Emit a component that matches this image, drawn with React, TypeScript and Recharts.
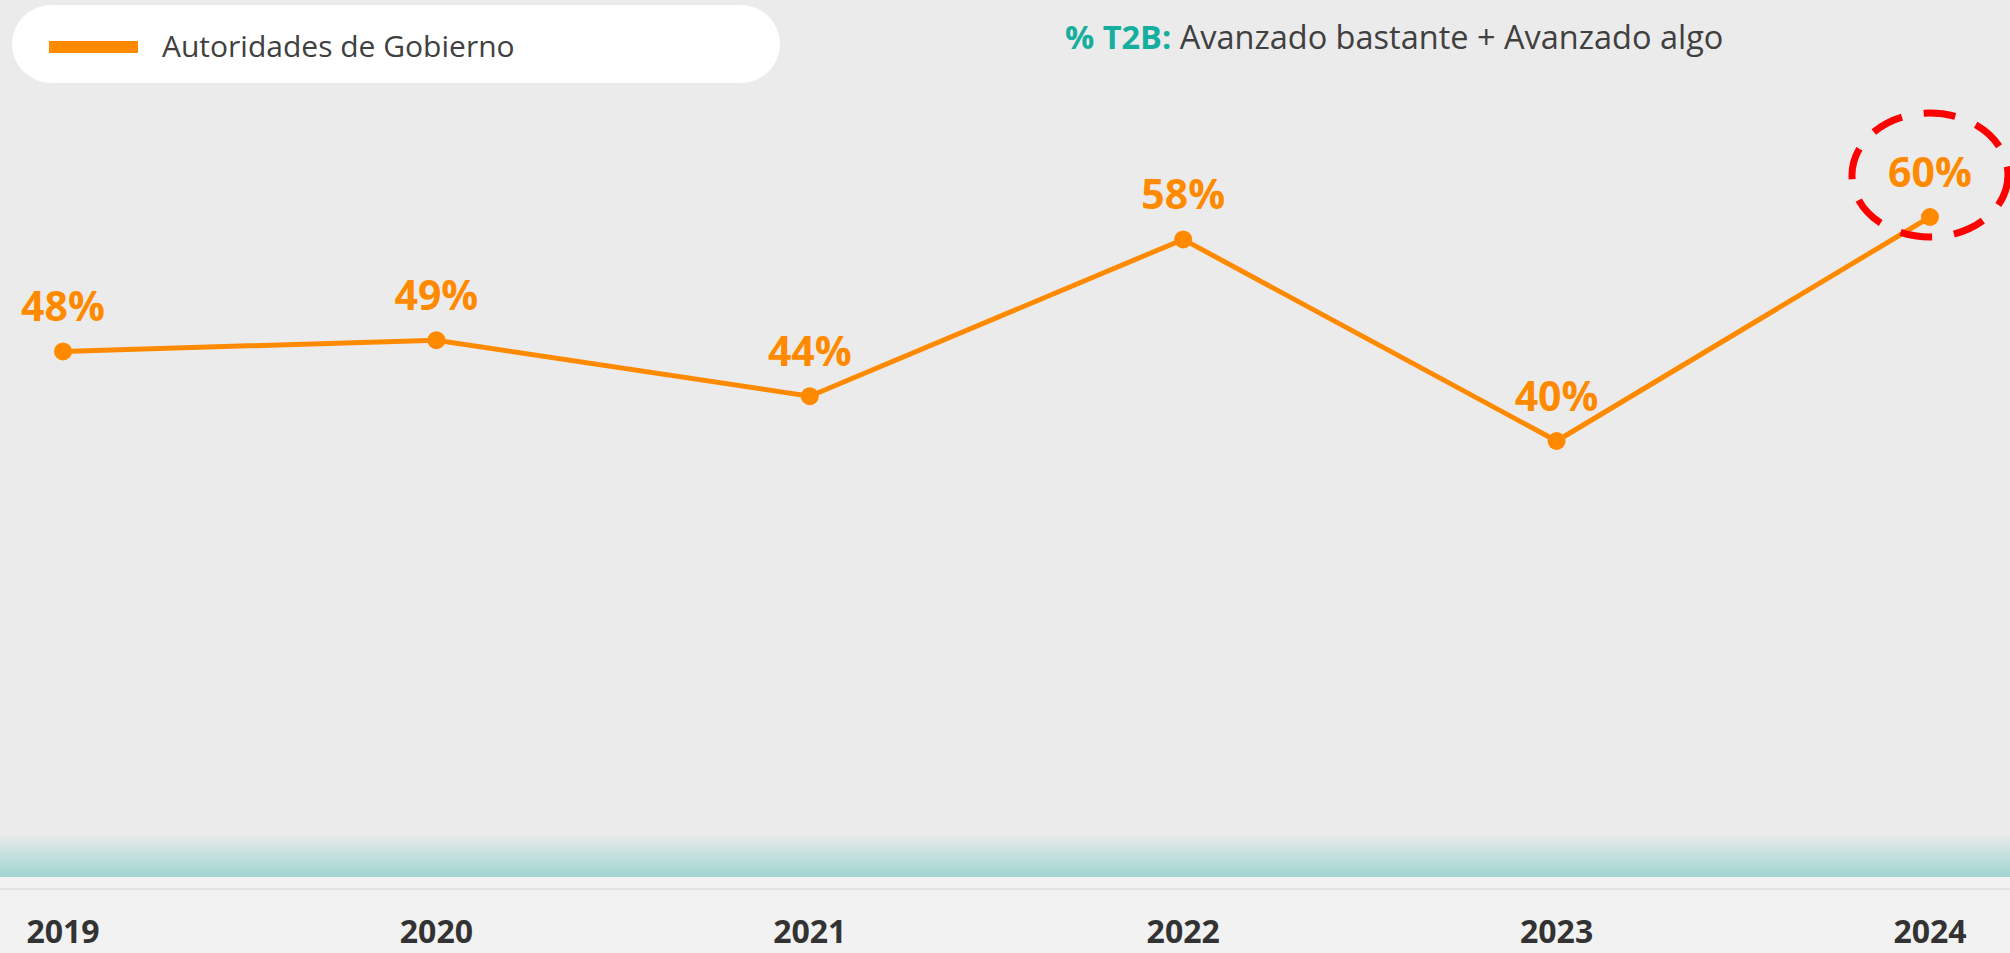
import React from 'react';
import { LineChart, Line, XAxis, YAxis, LabelList, ReferenceDot } from 'recharts';

const YEARS = ['2019', '2020', '2021', '2022', '2023', '2024'];
const GOBIERNO = [48, 49, 44, 58, 40, 60];

const SERIES_NAME = 'Autoridades de Gobierno';
const ORANGE = '#ff8a00';
const FONT = '"Open Sans", "Noto Sans", sans-serif';

const chartData = YEARS.map((year, i) => ({ year, value: GOBIERNO[i] }));

// year labels under the teal band
const YearTick = (props: any) => {
  const { x, y, payload } = props;
  return (
    <text x={x} y={y + 54} textAnchor="middle" fontFamily={FONT} fontSize={32} fontWeight={700} fill="#333333">
      {payload.value}
    </text>
  );
};

// percentage label above each point
const ValueLabel = (props: any) => {
  const { x, y, value } = props;
  return (
    <text x={x} y={y - 30} textAnchor="middle" fontFamily={FONT} fontSize={41} fontWeight={700} fill={ORANGE}>
      {`${value}%`}
    </text>
  );
};

// dashed red ring around the latest value
const Highlight = (props: any) => {
  const { cx, cy } = props;
  return (
    <ellipse cx={cx} cy={cy - 42} rx={78} ry={62} fill="none" stroke="#ff0000" strokeWidth={7} strokeDasharray="32 22" />
  );
};

const App = () => {
  const last = chartData[chartData.length - 1];
  return (
    <div style={{ position: 'fixed', left: 0, top: 0, width: 2010, height: 953, overflow: 'hidden', fontFamily: FONT }}>
      {/* backgrounds */}
      <div style={{ position: 'absolute', left: 0, top: 0, width: 2010, height: 877, background: 'linear-gradient(to bottom, #ebebeb 0px, #ebebeb 833px, #a0d5d0 877px)' }} />
      <div style={{ position: 'absolute', left: 0, top: 877, width: 2010, height: 76, background: '#f2f2f2' }} />

      {/* legend pill */}
      <div style={{ position: 'absolute', left: 12, top: 5, width: 768, height: 78, background: '#ffffff', borderRadius: 39 }}>
        <div style={{ position: 'absolute', left: 37, top: 36, width: 89, height: 12, background: ORANGE }} />
        <div style={{ position: 'absolute', left: 150, top: 21, fontSize: 30, lineHeight: '40px', color: '#404040' }}>{SERIES_NAME}</div>
      </div>

      {/* subtitle */}
      <div style={{ position: 'absolute', left: 1065, top: 15, fontSize: 32.5, lineHeight: '44px', color: '#404040', whiteSpace: 'nowrap' }}>
        <span style={{ color: '#16ae9e', fontWeight: 700 }}>% T2B:</span> Avanzado bastante + Avanzado algo
      </div>

      <div style={{ position: 'absolute', left: 0, top: 0 }}>
        <LineChart width={2010} height={953} data={chartData} margin={{ top: 105, right: 0, bottom: 0, left: 0 }}>
          <XAxis
            dataKey="year"
            height={64}
            padding={{ left: 63, right: 80 }}
            tickLine={false}
            tickSize={0}
            tickMargin={0}
            axisLine={{ stroke: '#e3e3e3', strokeWidth: 2 }}
            tick={<YearTick />}
            interval={0}
          />
          <YAxis hide domain={[0, 70]} width={0} />
          <Line
            dataKey="value"
            name={SERIES_NAME}
            stroke={ORANGE}
            strokeWidth={5}
            dot={{ r: 9, fill: ORANGE, stroke: 'none' }}
            activeDot={false}
            isAnimationActive={false}
          >
            <LabelList dataKey="value" content={<ValueLabel />} />
          </Line>
          <ReferenceDot x={last.year} y={last.value} shape={<Highlight />} />
        </LineChart>
      </div>
    </div>
  );
};

export default App;
